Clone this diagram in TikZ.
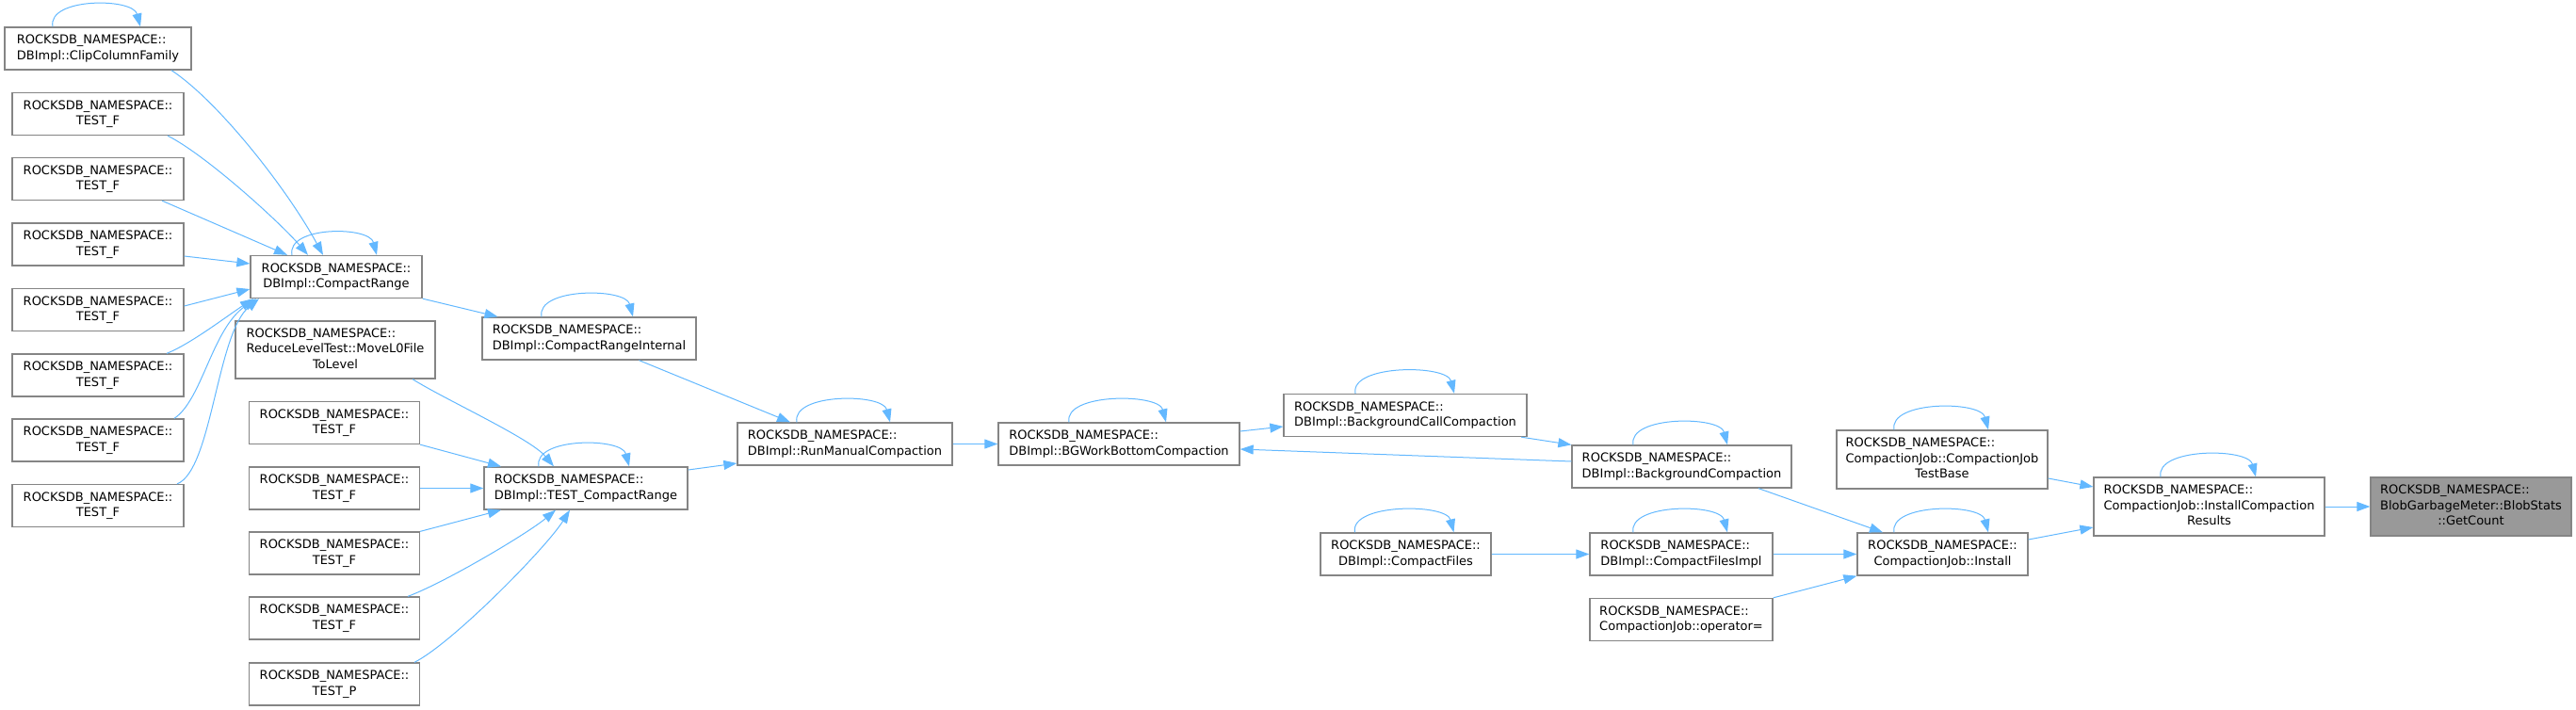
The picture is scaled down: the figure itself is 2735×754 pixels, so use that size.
\documentclass[tikz,border=0pt]{standalone}
\usepackage{fontspec}
\usepackage{tikz}
\usetikzlibrary{arrows.meta}
\setmainfont{DejaVu Sans}
\definecolor{edgeblue}{HTML}{63B8FF}
\definecolor{boxgray}{HTML}{858585}
\definecolor{rootgray}{HTML}{999999}
\newcommand{\dgfont}{\fontsize{13}{16.5}\selectfont}
% lines left aligned, last line centred
\newcommand{\dlabel}[2]{\begin{tabular}{@{}l@{}}#1\\\multicolumn{1}{@{}c@{}}{#2}\end{tabular}}
\newcommand{\rns}{ROCKSDB\_NAMESPACE::}

\begin{document}
\begin{tikzpicture}[x=1pt,y=-1pt,
    box/.style={draw=boxgray,line width=1.3pt,fill=white,inner sep=0pt,minimum height=45pt,font=\dgfont},
    rootbox/.style={box,fill=rootgray},
    edge/.style={draw=edgeblue,line width=1pt,-{Triangle[length=14pt,width=10pt]}}]
			\useasboundingbox (0,0) rectangle (2735,754);
			% callers of CompactRange
			\node[box,minimum width=198pt] (ccf) at (104,51.5) {\dlabel{\rns}{DBImpl::ClipColumnFamily}};
			\node[box,minimum width=182pt] (tfl1) at (104,121) {\dlabel{\rns}{TEST\_F}};
			\node[box,minimum width=182pt] (tfl2) at (104,190) {\dlabel{\rns}{TEST\_F}};
			\node[box,minimum width=182pt] (tfl3) at (104,259.5) {\dlabel{\rns}{TEST\_F}};
			\node[box,minimum width=182pt] (tfl4) at (104,329) {\dlabel{\rns}{TEST\_F}};
			\node[box,minimum width=182pt] (tfl5) at (104,398.5) {\dlabel{\rns}{TEST\_F}};
			\node[box,minimum width=182pt] (tfl6) at (104,467.5) {\dlabel{\rns}{TEST\_F}};
			\node[box,minimum width=182pt] (tfl7) at (104,537) {\dlabel{\rns}{TEST\_F}};
			% second column
			\node[box,minimum width=182pt] (cr) at (357,294) {\dlabel{\rns}{DBImpl::CompactRange}};
			\node[box,minimum width=212pt,minimum height=61pt] (ml0) at (356,371.5) {\dlabel{\rns\\ReduceLevelTest::MoveL0File}{ToLevel}};
			\node[box,minimum width=181pt] (tfr1) at (355,449) {\dlabel{\rns}{TEST\_F}};
			\node[box,minimum width=181pt] (tfr2) at (355,518.5) {\dlabel{\rns}{TEST\_F}};
			\node[box,minimum width=181pt] (tfr3) at (355,587.5) {\dlabel{\rns}{TEST\_F}};
			\node[box,minimum width=181pt] (tfr4) at (355,656.5) {\dlabel{\rns}{TEST\_F}};
			\node[box,minimum width=181pt] (tp) at (355,726.5) {\dlabel{\rns}{TEST\_P}};
			% middle
			\node[box,minimum width=227pt] (cri) at (625.5,359.5) {\dlabel{\rns}{DBImpl::CompactRangeInternal}};
			\node[box,minimum width=216pt] (tcr) at (622,518.5) {\dlabel{\rns}{DBImpl::TEST\_CompactRange}};
			\node[box,minimum width=228pt] (rmc) at (897,471.5) {\dlabel{\rns}{DBImpl::RunManualCompaction}};
			\node[box,minimum width=256pt] (bgw) at (1188,471.5) {\dlabel{\rns}{DBImpl::BGWorkBottomCompaction}};
			\node[box,minimum width=258pt] (bcc) at (1492,441) {\dlabel{\rns}{DBImpl::BackgroundCallCompaction}};
			\node[box,minimum width=233pt] (bc) at (1785.5,495.5) {\dlabel{\rns}{DBImpl::BackgroundCompaction}};
			\node[box,minimum width=181pt] (cf) at (1492.5,588.5) {\dlabel{\rns}{DBImpl::CompactFiles}};
			\node[box,minimum width=194pt] (cfi) at (1785,588.5) {\dlabel{\rns}{DBImpl::CompactFilesImpl}};
			\node[box,minimum width=194pt] (op) at (1785,658) {\dlabel{\rns}{CompactionJob::operator=}};
			% right part
			\node[box,minimum width=181pt] (inst) at (2062.5,588.5) {\dlabel{\rns}{CompactionJob::Install}};
			\node[box,minimum width=224pt,minimum height=62pt] (cjtb) at (2062,488) {\dlabel{\rns\\CompactionJob::CompactionJob}{TestBase}};
			\node[box,minimum width=245pt,minimum height=62pt] (icr) at (2345.5,538) {\dlabel{\rns\\CompactionJob::InstallCompaction}{Results}};
			\node[rootbox,minimum width=213pt,minimum height=62pt] (gc) at (2623.5,538) {\dlabel{\rns\\BlobGarbageMeter::BlobStats}{::GetCount}};
			% edges into CompactRange
			\draw[edge] ([xshift=78pt]ccf.south) .. controls +(50,33) and +(-38,-70) .. ([xshift=-14pt]cr.north);
			\draw[edge] ([xshift=74pt]tfl1.south) .. controls +(40,20) and +(-30,-35) .. ([xshift=-30pt]cr.north);
			\draw[edge] ([xshift=68pt]tfl2.south) -- ([xshift=-52pt]cr.north);
			\draw[edge] ([yshift=-12.5pt]tfl3.east) -- ([yshift=14pt]cr.west);
			\draw[edge] ([yshift=4pt]tfl4.east) -- ([yshift=-13pt]cr.west);
			\draw[edge] ([xshift=73pt]tfl5.north) .. controls +(25,-10) and +(-30,20) .. ([xshift=-88pt]cr.south);
			\draw[edge] ([xshift=81pt]tfl6.north) .. controls +(30,-20) and +(-47,32) .. ([xshift=-85pt]cr.south);
			\draw[edge] ([xshift=84pt]tfl7.north) .. controls +(37,-14) and +(-45,37) .. ([xshift=-82pt]cr.south);
			% edges into TEST_CompactRange
			\draw[edge] ([xshift=82pt]ml0.south) .. controls +(35,22) and +(-25,-30) .. ([xshift=-34pt]tcr.north);
			\draw[edge] (tfr1.south east) -- ([xshift=-90pt]tcr.north);
			\draw[edge] (tfr2.east) -- (tcr.west);
			\draw[edge] (tfr3.north east) -- ([xshift=-90pt]tcr.south);
			\draw[edge] ([xshift=78pt]tfr4.north) .. controls +(40,-15) and +(-30,25) .. ([xshift=-32pt]tcr.south);
			\draw[edge] ([xshift=85pt]tp.north) .. controls +(40,-20) and +(-25,40) .. ([xshift=-17pt]tcr.south);
			% main chain
			\draw[edge] (cr.south east) -- ([xshift=-97pt]cri.north);
			\draw[edge] ([xshift=53pt]cri.south) -- ([xshift=-58pt]rmc.north);
			\draw[edge] ([yshift=19.5pt]tcr.east) -- ([yshift=-20.5pt]rmc.west);
			\draw[edge] (rmc.east) -- (bgw.west);
			\draw[edge] ([yshift=13.5pt]bgw.east) -- ([yshift=-12pt]bcc.west);
			\draw[edge] ([xshift=123pt]bcc.south) -- (bc.north west);
			\draw[edge] ([yshift=5.5pt]bc.west) -- ([yshift=-5.5pt]bgw.east);
			\draw[edge] ([xshift=81.5pt]bc.south) -- ([xshift=-63.5pt]inst.north);
			\draw[edge] (cf.east) -- (cfi.west);
			\draw[edge] (cfi.east) -- (inst.west);
			\draw[edge] (op.north east) -- (inst.south west);
			\draw[edge] ([yshift=15.5pt]inst.east) -- ([yshift=-22pt]icr.west);
			\draw[edge] ([yshift=-20pt]cjtb.east) -- ([yshift=21pt]icr.west);
			\draw[edge] (icr.east) -- (gc.west);
			% self calls
			\draw[edge] ([xshift=-48pt]ccf.north) .. controls +(-6,-31) and +(-8,-31) .. ([xshift=45pt]ccf.north);
			\draw[edge] ([xshift=-47pt]cr.north) .. controls +(-6,-31) and +(-8,-31) .. ([xshift=43pt]cr.north);
			\draw[edge] ([xshift=-50.5pt]cri.north) .. controls +(-6,-31) and +(-8,-31) .. ([xshift=46.5pt]cri.north);
			\draw[edge] ([xshift=-50pt]tcr.north) .. controls +(-6,-31) and +(-8,-31) .. ([xshift=46pt]tcr.north);
			\draw[edge] ([xshift=-51pt]rmc.north) .. controls +(-6,-31) and +(-8,-31) .. ([xshift=48pt]rmc.north);
			\draw[edge] ([xshift=-53pt]bgw.north) .. controls +(-6,-31) and +(-8,-31) .. ([xshift=50pt]bgw.north);
			\draw[edge] ([xshift=-53pt]bcc.north) .. controls +(-6,-31) and +(-8,-31) .. ([xshift=52pt]bcc.north);
			\draw[edge] ([xshift=-51.5pt]bc.north) .. controls +(-6,-31) and +(-8,-31) .. ([xshift=48.5pt]bc.north);
			\draw[edge] ([xshift=-54pt]cf.north) .. controls +(-6,-31) and +(-8,-31) .. ([xshift=51pt]cf.north);
			\draw[edge] ([xshift=-51pt]cfi.north) .. controls +(-6,-31) and +(-8,-31) .. ([xshift=49pt]cfi.north);
			\draw[edge] ([xshift=-51.5pt]inst.north) .. controls +(-6,-31) and +(-8,-31) .. ([xshift=48.5pt]inst.north);
			\draw[edge] ([xshift=-51pt]cjtb.north) .. controls +(-6,-31) and +(-8,-31) .. ([xshift=49pt]cjtb.north);
			\draw[edge] ([xshift=-51.5pt]icr.north) .. controls +(-6,-31) and +(-8,-31) .. ([xshift=49.5pt]icr.north);
		\end{tikzpicture}
\end{document}
